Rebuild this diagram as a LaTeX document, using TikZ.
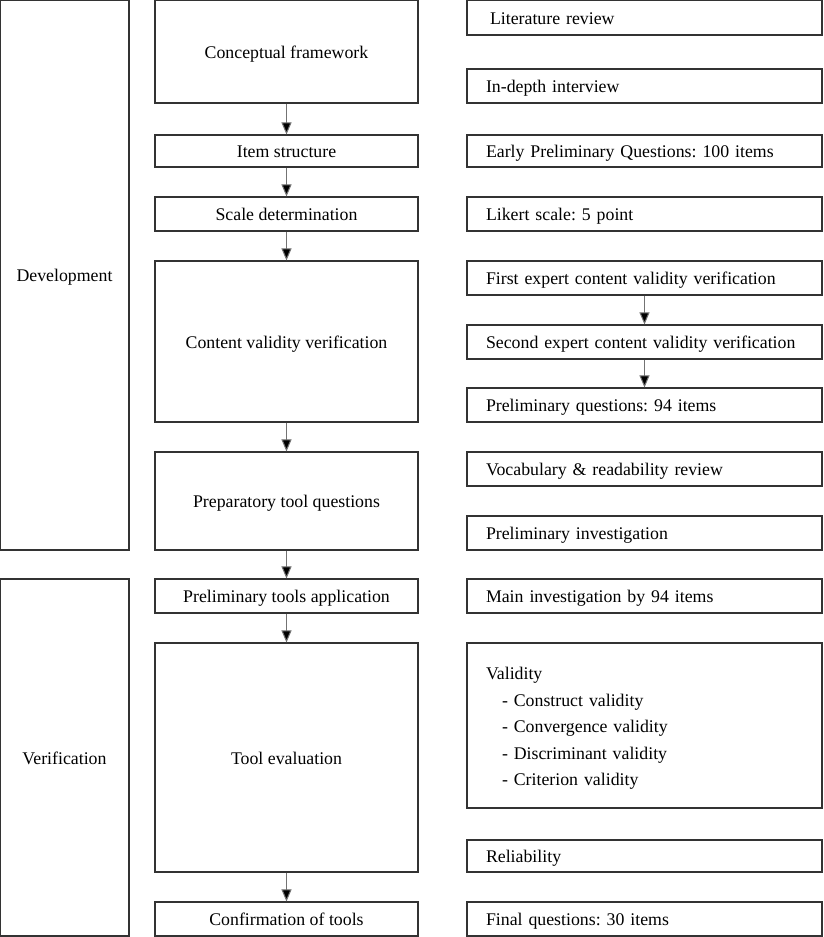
\documentclass[tikz,border=0pt]{standalone}
\usepackage{fontspec}
\setmainfont{Liberation Serif}
\usetikzlibrary{arrows.meta}
\begin{document}
\frenchspacing
\begin{tikzpicture}[x=1pt,y=-1pt,
  txt/.style={inner sep=0pt, font=\fontsize{17.8}{26.5}\selectfont},
  box/.style={txt, draw=black!80, line width=1.1pt, rectangle, text height=14pt, text depth=1pt},
  mid/.style={box, minimum width=263pt, align=center},
  lft/.style={box, minimum width=129pt, align=center},
  rgt/.style={box, minimum width=355pt, text width=317pt, align=left},
  flow/.style={draw=black!55, line width=1pt, -{Triangle[width=10pt,length=12pt,fill=black]}}]
\useasboundingbox (0,0) rectangle (823,937);
% left column
\node[lft, minimum height=550pt] (dev) at (64.5,275) {Development};
\node[lft, minimum height=357pt] (ver) at (64.5,757.5) {Verification};
% middle column
\node[mid, minimum height=103pt] (cf) at (286.5,51.5) {Conceptual framework};
\node[mid, minimum height=32pt] (is) at (286.5,151) {Item structure};
\node[mid, minimum height=34pt] (sd) at (286.5,214) {Scale determination};
\node[mid, minimum height=161pt] (cv) at (286.5,341.5) {Content validity verification};
\node[mid, minimum height=98pt] (pt) at (286.5,501) {Preparatory tool questions};
\node[mid, minimum height=34pt] (pa) at (286.5,596) {Preliminary tools application};
\node[mid, minimum height=229pt] (te) at (286.5,757.5) {Tool evaluation};
\node[mid, minimum height=34pt] (ct) at (286.5,919) {Confirmation of tools};
% right column
\node[rgt, minimum height=35pt] (lr) at (644.5,17.5) {\hspace*{4pt}Literature review};
\node[rgt, minimum height=34pt] (ii) at (644.5,86) {In-depth interview};
\node[rgt, minimum height=32pt] (ep) at (644.5,151) {Early Preliminary Questions: 100 items};
\node[rgt, minimum height=34pt] (ls) at (644.5,214) {Likert scale: 5 point};
\node[rgt, minimum height=34pt] (fe) at (644.5,278) {First expert content validity verification};
\node[rgt, minimum height=34pt] (se) at (644.5,342) {Second expert content validity verification};
\node[rgt, minimum height=34pt] (pq) at (644.5,405) {Preliminary questions: 94 items};
\node[rgt, minimum height=34pt] (vr) at (644.5,469) {Vocabulary \& readability review};
\node[rgt, minimum height=34pt] (pi) at (644.5,533) {Preliminary investigation};
\node[rgt, minimum height=34pt] (mi) at (644.5,596) {Main investigation by 94 items};
\node[rgt, minimum height=165pt] (va) at (644.5,725.5) {};
\node[txt, text width=317pt, align=left, yshift=-3pt] (vat) at (va.center) {Validity\\
\hspace*{16pt}- Construct validity\\
\hspace*{16pt}- Convergence validity\\
\hspace*{16pt}- Discriminant validity\\
\hspace*{16pt}- Criterion validity};
\node[rgt, minimum height=32pt] (re) at (644.5,856) {Reliability};
\node[rgt, minimum height=34pt] (fq) at (644.5,919) {Final questions: 30 items};
% arrows
\draw[flow] (cf) -- (is);
\draw[flow] (is) -- (sd);
\draw[flow] (sd) -- (cv);
\draw[flow] (cv) -- (pt);
\draw[flow] (pt) -- (pa);
\draw[flow] (pa) -- (te);
\draw[flow] (te) -- (ct);
\draw[flow] (fe) -- (se);
\draw[flow] (se) -- (pq);
\end{tikzpicture}
\end{document}
